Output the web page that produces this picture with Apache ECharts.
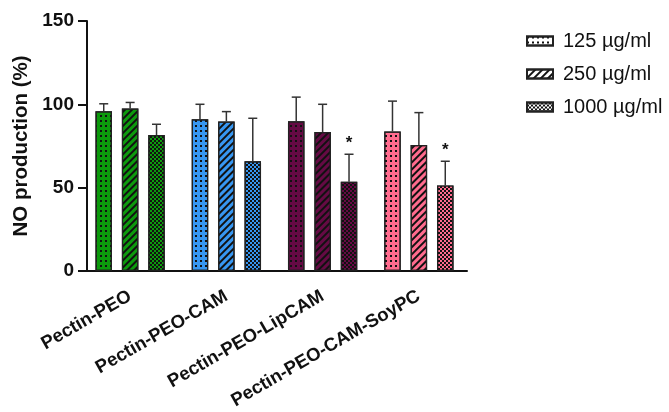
<!DOCTYPE html>
<html>
<head>
<meta charset="utf-8">
<script src="https://cdn.jsdelivr.net/npm/echarts@6/dist/echarts.min.js"></script>
<style>html,body{margin:0;padding:0;background:#fff;}#c{width:669px;height:412px;}</style>
</head>
<body>
<div id="c"></div>
<script>
var categories = ['Pectin-PEO', 'Pectin-PEO-CAM', 'Pectin-PEO-LipCAM', 'Pectin-PEO-CAM-SoyPC'];
var seriesNames = ['125 µg/ml', '250 µg/ml', '1000 µg/ml'];
var groupColors = ['#0c9a0c', '#3797f2', '#650a44', '#ff6b8e'];
var values125 = [95.8, 91.0, 89.8, 83.7];
var values250 = [97.4, 89.6, 83.3, 75.5];
var values1000 = [81.5, 65.8, 53.5, 51.3];
var sd125 = [4.5, 9.0, 14.5, 18.2];
var sd250 = [3.7, 6.0, 16.7, 19.5];
var sd1000 = [6.5, 25.8, 16.5, 14.5];
var sig1000 = ['', '', '*', '*'];
var yTicks = [0, 50, 100, 150];

var allValues = [values125, values250, values1000];
var allSd = [sd125, sd250, sd1000];
var allSig = [['', '', '', ''], ['', '', '', ''], sig1000];

var FONT = '"Liberation Sans", Arial, sans-serif';
var BAR_W = 16.5, BAR_GAP = 0.6;
var decals = [
  {symbol: 'rect', symbolSize: 1, color: '#111', dashArrayX: [2, 3], dashArrayY: [2, 3], rotation: 0},
  {symbol: 'rect', symbolSize: 1, color: '#111', dashArrayX: [1, 0], dashArrayY: [2, 2.5], rotation: -Math.PI / 4},
  {symbol: 'rect', symbolSize: 1, color: '#111', dashArrayX: [[2, 2], [0, 2, 2, 0]], dashArrayY: [2, 0], rotation: 0}
];

var series = [];
seriesNames.forEach(function (name, s) {
  series.push({
    name: name,
    type: 'bar',
    barWidth: BAR_W,
    barGap: (BAR_GAP * 100) + '%',
    itemStyle: {color: '#fff', borderColor: '#222', borderWidth: 1.2, decal: decals[s]},
    data: allValues[s].map(function (v, i) {
      return {value: v, itemStyle: {color: groupColors[i], borderColor: '#222', borderWidth: 1.2, decal: decals[s]}};
    }),
    z: 2
  });
});

var pitch = BAR_W * (1 + BAR_GAP);
seriesNames.forEach(function (name, s) {
  series.push({
    type: 'custom',
    name: 'err' + s,
    z: 5,
    silent: true,
    data: allValues[s].map(function (v, i) { return [i, v, v + allSd[s][i]]; }),
    renderItem: function (params, api) {
      var i = api.value(0);
      var base = api.coord([i, api.value(1)]);
      var top = api.coord([i, api.value(2)]);
      var x = base[0] + (s - 1) * pitch;
      var children = [
        {type: 'line', shape: {x1: x, y1: base[1], x2: x, y2: top[1]}, style: {stroke: '#333', lineWidth: 1.5}},
        {type: 'line', shape: {x1: x - 4.5, y1: top[1], x2: x + 4.5, y2: top[1]}, style: {stroke: '#333', lineWidth: 1.5}}
      ];
      var star = allSig[s][i];
      if (star) {
        children.push({type: 'text', style: {text: star, x: x, y: top[1] - 2, textAlign: 'center', textVerticalAlign: 'bottom', font: 'bold 17px ' + FONT, fill: '#111'}});
      }
      return {type: 'group', children: children};
    }
  });
});

var chart = echarts.init(document.getElementById('c'));
chart.setOption({
  animation: false,
  backgroundColor: '#fff',
  legend: {
    data: seriesNames,
    orient: 'vertical',
    left: 521,
    top: 25,
    icon: 'rect',
    itemWidth: 26,
    itemHeight: 9,
    itemGap: 11,
    textStyle: {fontFamily: FONT, fontSize: 20, color: '#111', lineHeight: 22, padding: [0, 0, 0, 5]}
  },
  grid: {left: 82, width: 385, top: 21, bottom: 139.3, containLabel: false},
  xAxis: {
    type: 'category',
    data: categories,
    axisLine: {lineStyle: {color: '#111', width: 2}},
    axisTick: {alignWithLabel: true, length: 9, lineStyle: {color: '#111', width: 2}},
    axisLabel: {rotate: 30, margin: 24, fontFamily: FONT, fontWeight: 'bold', fontSize: 18.5, color: '#111'}
  },
  yAxis: {
    type: 'value',
    min: yTicks[0],
    max: yTicks[yTicks.length - 1],
    interval: 50,
    offset: -5,
    name: 'NO production (%)',
    nameLocation: 'middle',
    nameGap: 47,
    nameTextStyle: {fontFamily: FONT, fontWeight: 'bold', fontSize: 20.5, color: '#111'},
    axisLine: {show: true, lineStyle: {color: '#111', width: 2}},
    axisTick: {show: true, length: 9, lineStyle: {color: '#111', width: 2}},
    axisLabel: {margin: 13, fontFamily: FONT, fontWeight: 'bold', fontSize: 19, color: '#111'},
    splitLine: {show: false}
  },
  series: series
});
</script>
</body>
</html>
